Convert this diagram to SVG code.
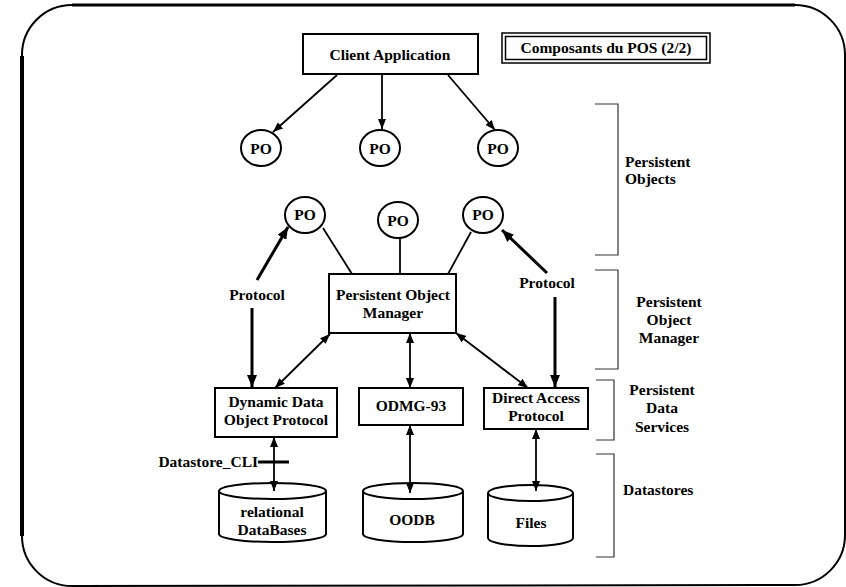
<svg xmlns="http://www.w3.org/2000/svg" width="846" height="587" viewBox="0 0 846 587">
<style>
text{font-family:'Liberation Serif','Times New Roman',Times,serif;font-weight:bold;font-size:15.5px;fill:#000}
.c{text-anchor:middle}
.box{fill:#fff;stroke:#000;stroke-width:2}
.po{fill:#fff;stroke:#000;stroke-width:2}
.ln{fill:none;stroke:#000;stroke-width:1.8}
.th{fill:none;stroke:#000;stroke-width:3}
.br{fill:none;stroke:#333;stroke-width:1.2}
</style>
<defs>
<marker id="ah" markerUnits="userSpaceOnUse" markerWidth="10" markerHeight="8" refX="10" refY="4" orient="auto-start-reverse"><path d="M0,0 L10,4 L0,8 z" fill="#000"/></marker>
<marker id="ahb" markerUnits="userSpaceOnUse" markerWidth="12" markerHeight="10" refX="12" refY="5" orient="auto-start-reverse"><path d="M0,0 L12,5 L0,10 z" fill="#000"/></marker>
</defs>
<rect width="846" height="587" fill="#fff"/>
<g id="frame">
<path d="M22,56 A50,50 0 0 1 72,5 L795,5 A50,50 0 0 1 845,55 L845,535 A50,50 0 0 1 795,585 L72,586 A50,50 0 0 1 22,536 Z" fill="none" stroke="#000" stroke-width="2"/>
<line x1="22" y1="56" x2="22" y2="536" stroke="#000" stroke-width="4"/>
<line x1="72" y1="5" x2="795" y2="5" stroke="#000" stroke-width="3"/>
</g>
<g id="title">
<rect x="502" y="33" width="208" height="30" fill="#fff" stroke="#000" stroke-width="1.5"/>
<rect x="505.5" y="36.5" width="201" height="23" fill="none" stroke="#000" stroke-width="1.5"/>
<text class="c" x="606" y="53" font-family="Liberation Serif">Composants du POS (2/2)</text>
</g>
<g id="client-app">
<rect class="box" x="303" y="34" width="175" height="40"/>
<text class="c" x="390" y="60">Client Application</text>
</g>
<g id="po1"><ellipse class="po" cx="261" cy="148" rx="20" ry="18"/><text class="c" x="261" y="154">PO</text></g>
<g id="po2"><ellipse class="po" cx="380" cy="148" rx="20" ry="18"/><text class="c" x="380" y="154">PO</text></g>
<g id="po3"><ellipse class="po" cx="498" cy="148" rx="20" ry="18"/><text class="c" x="498" y="154">PO</text></g>
<g id="po4"><ellipse class="po" cx="305" cy="215" rx="20" ry="18"/><text class="c" x="305" y="220">PO</text></g>
<g id="po5"><ellipse class="po" cx="398" cy="220" rx="20" ry="18"/><text class="c" x="398" y="226">PO</text></g>
<g id="po6"><ellipse class="po" cx="483" cy="215" rx="20" ry="18"/><text class="c" x="483" y="220">PO</text></g>
<g id="pom">
<rect class="box" x="329" y="274" width="127" height="59"/>
<text class="c" x="393" y="300">Persistent Object</text>
<text class="c" x="393" y="318">Manager</text>
</g>
<g id="ddop">
<rect class="box" x="215" y="388" width="122" height="49"/>
<text class="c" x="276" y="407">Dynamic Data</text>
<text class="c" x="276" y="425">Object Protocol</text>
</g>
<g id="odmg">
<rect class="box" x="359" y="388" width="104" height="37"/>
<text class="c" x="411" y="411">ODMG-93</text>
</g>
<g id="dap">
<rect class="box" x="484" y="388" width="104" height="41"/>
<text class="c" x="536" y="403">Direct Access</text>
<text class="c" x="536" y="421">Protocol</text>
</g>
<g id="relational">
<path class="box" d="M219,491 L219,534 A53.5,8 0 0 0 326,534 L326,491"/>
<ellipse class="box" cx="272.5" cy="491" rx="53.5" ry="8"/>
<text class="c" x="272" y="517">relational</text>
<text class="c" x="272" y="535">DataBases</text>
</g>
<g id="oodb">
<path class="box" d="M363,491 L363,534 A50,8 0 0 0 463,534 L463,491"/>
<ellipse class="box" cx="413" cy="491" rx="50" ry="8"/>
<text class="c" x="412" y="525">OODB</text>
</g>
<g id="files">
<path class="box" d="M488,493 L488,538 A42.5,8 0 0 0 573,538 L573,493"/>
<ellipse class="box" cx="530.5" cy="493" rx="42.5" ry="8"/>
<text class="c" x="531" y="528">Files</text>
</g>
<g id="layer-objects">
<path class="br" d="M595,104 L618,104 L618,255 L595,255"/>
<text x="625" y="167">Persistent</text>
<text x="625" y="184">Objects</text>
</g>
<g id="layer-manager">
<path class="br" d="M595,270 L618,270 L618,369 L595,369"/>
<text class="c" x="669" y="307">Persistent</text>
<text class="c" x="669" y="325">Object</text>
<text class="c" x="669" y="343">Manager</text>
</g>
<g id="layer-services">
<path class="br" d="M596,380 L614,380 L614,440 L596,440"/>
<text class="c" x="662" y="395">Persistent</text>
<text class="c" x="662" y="413">Data</text>
<text class="c" x="662" y="432">Services</text>
</g>
<g id="layer-datastores">
<path class="br" d="M596,454 L614,454 L614,557 L596,557"/>
<text x="623" y="495">Datastores</text>
</g>
<g id="connectors">
<path class="ln" d="M337,75 L273,132" marker-end="url(#ah)"/>
<path class="ln" d="M382,75 L382,129" marker-end="url(#ah)"/>
<path class="ln" d="M448,75 L495,130" marker-end="url(#ah)"/>
<path class="ln" d="M323,228 L352,274"/>
<path class="ln" d="M400,238 L400,274"/>
<path class="ln" d="M471,232 L448,274"/>
<path class="th" d="M257,280 L288,227" marker-end="url(#ahb)"/>
<path class="th" d="M252,308 L252,387" marker-end="url(#ahb)"/>
<path class="th" d="M547,273 L502,230" marker-end="url(#ahb)"/>
<path class="th" d="M555,297 L555,387" marker-end="url(#ahb)"/>
<path class="ln" d="M330,334 L275,388" marker-start="url(#ah)" marker-end="url(#ah)"/>
<path class="ln" d="M410,333 L410,388" marker-start="url(#ah)" marker-end="url(#ah)"/>
<path class="ln" d="M456,333 L528,388" marker-start="url(#ah)" marker-end="url(#ah)"/>
<path class="ln" d="M274,437 L274,491" marker-start="url(#ah)" marker-end="url(#ah)"/>
<path class="ln" d="M410,425 L410,493" marker-start="url(#ah)" marker-end="url(#ah)"/>
<path class="ln" d="M536,429 L536,491" marker-start="url(#ah)" marker-end="url(#ah)"/>
<path class="th" d="M258,462 L289,462"/>
<text x="257" y="300" class="c">Protocol</text>
<text x="547" y="288" class="c">Protocol</text>
<text x="258" y="467" text-anchor="end">Datastore_CLI</text>
</g>
</svg>
